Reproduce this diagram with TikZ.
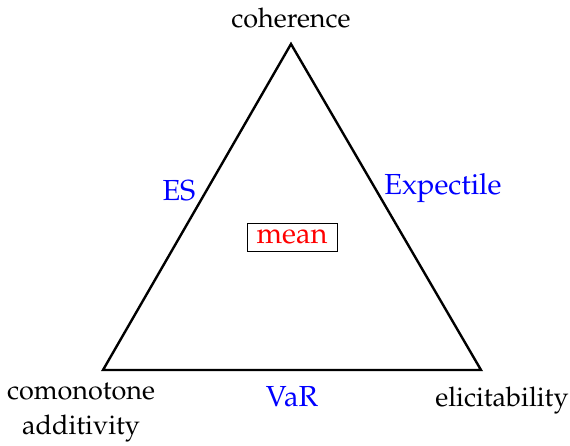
\documentclass[tikz,border=0pt]{standalone}
\usepackage[T1]{fontenc}
\usepackage{mathpazo}
\begin{document}
\begin{tikzpicture}[x=1pt,y=-1pt,
  lab/.style={font=\fontsize{27}{32}\selectfont,inner sep=0pt},
  blab/.style={inner sep=0pt,font=\fontsize{29}{34}\selectfont,text=blue},
  edge/.style={line width=2.4pt,line join=miter}]
\useasboundingbox (0,0) rectangle (570,446);
\coordinate (T) at (291,44);
\coordinate (L) at (103,370);
\coordinate (R) at (481,370);
\draw[edge] (T) -- (L) -- (R) -- cycle;
\node[lab] (coh) at (291,18) {coherence};
\node[blab] (es) at (179,191) {ES};
\node[blab] (exp) at (443,188) {Expectile};
\node[blab,text=red,draw=black,line width=0.9pt,minimum width=90,minimum height=28] (mean) at (292,237) {mean};
\node[blab] (var) at (292,396) {VaR};
\node[lab,align=center,font=\fontsize{27}{35}\selectfont] (como) at (81,413) {comonotone\\additivity};
\node[lab] (eli) at (502,401) {elicitability};
\end{tikzpicture}
\end{document}
